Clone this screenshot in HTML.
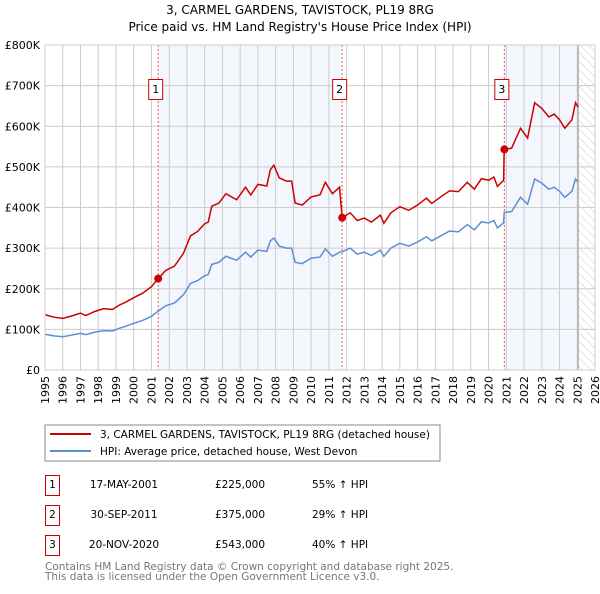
<!DOCTYPE html>
<html><head><meta charset="utf-8"><style>
body{margin:0;background:#fff;font-family:"DejaVu Sans","Liberation Sans",sans-serif;}
svg text{font-family:"DejaVu Sans","Liberation Sans",sans-serif;}
</style></head><body>
<svg id="chart" width="600" height="590" viewBox="0 0 600 590" xmlns="http://www.w3.org/2000/svg">
<defs><pattern id="hatch" width="6" height="6" patternUnits="userSpaceOnUse" patternTransform="rotate(-45)"><line x1="0" y1="0" x2="0" y2="6" stroke="#ccc" stroke-width="1"/></pattern></defs>
<text x="300" y="14" text-anchor="middle" font-size="12">3, CARMEL GARDENS, TAVISTOCK, PL19 8RG</text>
<text x="300" y="31" text-anchor="middle" font-size="12">Price paid vs. HM Land Registry's House Price Index (HPI)</text>
<g id="plot"></g>
<rect x="45" y="425" width="395" height="36" fill="#fff" stroke="#888"/>
<line x1="50" y1="434" x2="91" y2="434" stroke="#cc0000" stroke-width="2"/>
<text x="100" y="438" font-size="10.5">3, CARMEL GARDENS, TAVISTOCK, PL19 8RG (detached house)</text>
<line x1="50" y1="451" x2="91" y2="451" stroke="#5b8fd4" stroke-width="2"/>
<text x="100" y="455" font-size="10.5">HPI: Average price, detached house, West Devon</text>
<g font-size="10.5">
<rect x="45.5" y="475.5" width="14" height="20" fill="#fff" stroke="#cc0000"/><text x="52.5" y="488" text-anchor="middle">1</text>
<text x="124" y="488" text-anchor="middle">17-MAY-2001</text><text x="240" y="488" text-anchor="middle">£225,000</text><text x="312" y="488">55% ↑ HPI</text>
<rect x="45.5" y="505.5" width="14" height="20" fill="#fff" stroke="#cc0000"/><text x="52.5" y="518" text-anchor="middle">2</text>
<text x="124" y="518" text-anchor="middle">30-SEP-2011</text><text x="240" y="518" text-anchor="middle">£375,000</text><text x="312" y="518">29% ↑ HPI</text>
<rect x="45.5" y="535.5" width="14" height="20" fill="#fff" stroke="#cc0000"/><text x="52.5" y="548" text-anchor="middle">3</text>
<text x="124" y="548" text-anchor="middle">20-NOV-2020</text><text x="240" y="548" text-anchor="middle">£543,000</text><text x="312" y="548">40% ↑ HPI</text>
</g>
<text x="45" y="570" font-size="10.5" fill="#777">Contains HM Land Registry data © Crown copyright and database right 2025.</text>
<text x="45" y="580" font-size="10.5" fill="#777">This data is licensed under the Open Government Licence v3.0.</text>
</svg>
<script>
const years=[1995.0,1995.5,1996.0,1996.5,1997.0,1997.3,1997.8,1998.3,1998.8,1999.2,1999.5,2000.0,2000.5,2001.0,2001.38,2001.8,2002.3,2002.8,2003.2,2003.6,2004.0,2004.2,2004.4,2004.8,2005.2,2005.8,2006.3,2006.6,2007.0,2007.5,2007.7,2007.9,2008.2,2008.6,2008.9,2009.1,2009.5,2010.0,2010.5,2010.8,2011.2,2011.6,2011.75,2012.2,2012.6,2013.0,2013.4,2013.9,2014.1,2014.5,2015.0,2015.5,2016.0,2016.5,2016.8,2017.3,2017.8,2018.3,2018.8,2019.2,2019.6,2020.0,2020.3,2020.5,2020.85,2020.88,2021.3,2021.8,2022.2,2022.6,2023.0,2023.4,2023.7,2024.0,2024.3,2024.7,2024.9,2025.05];
const hpiValues=[88,84,82,86,90,87,93,97,96,103,107,115,122,132,145,158,165,185,213,220,232,235,260,265,280,270,290,278,295,292,318,325,305,300,300,265,262,275,278,298,280,290,291,300,285,290,282,295,280,300,312,305,315,328,318,330,342,340,358,345,365,362,368,350,362,388,390,425,408,470,460,445,450,440,425,440,470,462];
const priceValues=[136,130,127,133,140,134,144,151,149,160,166,178,189,205,225,245,256,287,330,341,360,364,403,411,434,419,450,431,457,453,493,504,473,465,465,411,406,426,431,462,434,450,375,387,368,374,364,381,361,387,402,393,406,423,410,426,441,439,462,445,471,467,475,452,467,543,546,595,571,658,644,623,630,616,595,616,658,647];
const saleYears=[2001.38,2011.75,2020.89];
const salePrices=[225,375,543];
const saleLabels=["1","2","3"];
const yTicks=[0,100,200,300,400,500,600,700,800];
const yTickLabels=["£0","£100K","£200K","£300K","£400K","£500K","£600K","£700K","£800K"];
const xTicks=[1995,1996,1997,1998,1999,2000,2001,2002,2003,2004,2005,2006,2007,2008,2009,2010,2011,2012,2013,2014,2015,2016,2017,2018,2019,2020,2021,2022,2023,2024,2025,2026];

const L=45,R=595,T=45,B=370;
const X=y=>L+(y-1995)/(2026-1995)*(R-L);
const Y=v=>B-v/800*(B-T);
const NS="http://www.w3.org/2000/svg";
const g=document.getElementById('plot');
function mk(tag,attrs){const e=document.createElementNS(NS,tag);for(const k in attrs)e.setAttribute(k,attrs[k]);g.appendChild(e);return e;}
let e;
e=mk('rect',{x:L,y:T,width:R-L,height:B-T,fill:'#fff'});


e=mk('rect',{x:X(saleYears[0]),y:T,width:X(saleYears[1])-X(saleYears[0]),height:B-T,fill:'#f3f6fd'});


e=mk('rect',{x:X(saleYears[2]),y:T,width:X(2025.05)-X(saleYears[2]),height:B-T,fill:'#f3f6fd'});


e=mk('rect',{x:X(2025.05),y:T,width:R-X(2025.05),height:B-T,fill:'url(#hatch)'});


xTicks.forEach((t,i)=>{
 e=mk('line',{x1:X(t),x2:X(t),y1:T,y2:B,stroke:'#ccc','stroke-width':1});
 
 
 e=mk('text',{x:0,y:0,'font-size':11,'text-anchor':'end',transform:`translate(${X(t)+4},${B+6}) rotate(-90)`});
 e.textContent=t;
 
 
});
yTicks.forEach((t,i)=>{
 e=mk('line',{x1:L,x2:R,y1:Y(t),y2:Y(t),stroke:'#ccc','stroke-width':1});
 
 
 e=mk('text',{x:L-5,y:Y(t)+4,'font-size':11,'text-anchor':'end'});
 e.textContent=yTickLabels[i];
 
 
});
e=mk('line',{x1:X(2025.05),x2:X(2025.05),y1:T,y2:B,stroke:'#999','stroke-width':1});


saleYears.forEach((s,i)=>{
 e=mk('line',{x1:X(s),x2:X(s),y1:T,y2:B,stroke:'#e06060','stroke-width':1,'stroke-dasharray':'2,2'});
 
 
});
e=mk('polyline',{points:years.map((y,i)=>X(y)+','+Y(hpiValues[i])).join(' '),fill:'none',stroke:'#5b8fd4','stroke-width':1.5});


e=mk('polyline',{points:years.map((y,i)=>X(y)+','+Y(priceValues[i])).join(' '),fill:'none',stroke:'#cc0000','stroke-width':1.5});


saleYears.forEach((s,i)=>{
 e=mk('circle',{cx:X(s),cy:Y(salePrices[i]),r:4,fill:'#cc0000'});
 
 
 e=mk('rect',{x:X(s)-9.5,y:79.5,width:14,height:20,fill:'#fff',stroke:'#cc0000'});
 
 
 e=mk('text',{x:X(s)-2.5,y:93,'font-size':11,'text-anchor':'middle'});
 e.textContent=saleLabels[i];
 
 
});
e=mk('rect',{x:L,y:T,width:R-L,height:B-T,fill:'none',stroke:'#ccc'});


</script>
</body></html>
